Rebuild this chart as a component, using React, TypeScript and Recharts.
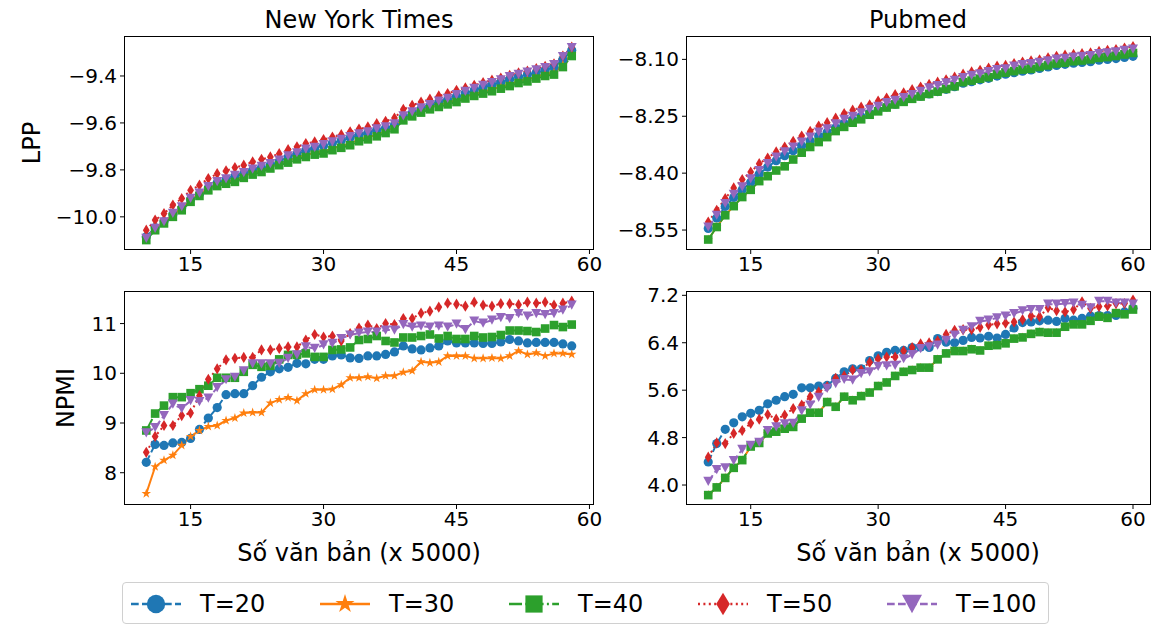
import React from 'react';
import { LineChart, Line, XAxis, YAxis } from 'recharts';

// x values (number of documents, x 5000)
const NYT_X = [10, 11, 12, 13, 14, 15, 16, 17, 18, 19, 20, 21, 22, 23, 24, 25, 26, 27, 28, 29, 30, 31, 32, 33, 34, 35, 36, 37, 38, 39, 40, 41, 42, 43, 44, 45, 46, 47, 48, 49, 50, 51, 52, 53, 54, 55, 56, 57, 58];
const PM_X = [10, 11, 12, 13, 14, 15, 16, 17, 18, 19, 20, 21, 22, 23, 24, 25, 26, 27, 28, 29, 30, 31, 32, 33, 34, 35, 36, 37, 38, 39, 40, 41, 42, 43, 44, 45, 46, 47, 48, 49, 50, 51, 52, 53, 54, 55, 56, 57, 58, 59, 60];

// New York Times - LPP
const NYT_LPP_T20 = [-10.085, -10.046, -10.020, -9.990, -9.962, -9.925, -9.903, -9.876, -9.855, -9.842, -9.828, -9.816, -9.801, -9.790, -9.778, -9.763, -9.745, -9.732, -9.717, -9.709, -9.697, -9.686, -9.675, -9.663, -9.651, -9.643, -9.630, -9.622, -9.609, -9.575, -9.558, -9.541, -9.528, -9.513, -9.501, -9.486, -9.473, -9.461, -9.449, -9.438, -9.427, -9.414, -9.404, -9.395, -9.385, -9.375, -9.363, -9.330, -9.290];
const NYT_LPP_T30 = [-10.091, -10.049, -10.020, -9.992, -9.964, -9.928, -9.903, -9.879, -9.861, -9.851, -9.843, -9.826, -9.812, -9.801, -9.786, -9.772, -9.761, -9.747, -9.737, -9.727, -9.722, -9.708, -9.698, -9.687, -9.670, -9.662, -9.649, -9.635, -9.619, -9.581, -9.564, -9.548, -9.534, -9.524, -9.513, -9.503, -9.488, -9.477, -9.467, -9.457, -9.446, -9.435, -9.422, -9.415, -9.403, -9.392, -9.386, -9.352, -9.305];
const NYT_LPP_T40 = [-10.099, -10.057, -10.028, -10.000, -9.972, -9.936, -9.911, -9.887, -9.869, -9.859, -9.851, -9.834, -9.820, -9.809, -9.794, -9.780, -9.769, -9.755, -9.745, -9.735, -9.730, -9.716, -9.706, -9.695, -9.678, -9.670, -9.657, -9.643, -9.627, -9.589, -9.572, -9.556, -9.542, -9.532, -9.521, -9.511, -9.496, -9.485, -9.475, -9.465, -9.454, -9.443, -9.430, -9.423, -9.411, -9.400, -9.394, -9.362, -9.315];
const NYT_LPP_T50 = [-10.057, -10.014, -9.986, -9.950, -9.922, -9.887, -9.865, -9.837, -9.816, -9.804, -9.790, -9.780, -9.766, -9.755, -9.745, -9.731, -9.714, -9.702, -9.688, -9.681, -9.671, -9.660, -9.650, -9.638, -9.626, -9.617, -9.603, -9.593, -9.579, -9.542, -9.525, -9.511, -9.499, -9.485, -9.475, -9.461, -9.451, -9.440, -9.428, -9.418, -9.409, -9.397, -9.387, -9.379, -9.369, -9.359, -9.348, -9.315, -9.277];
const NYT_LPP_T100 = [-10.092, -10.049, -10.021, -9.985, -9.957, -9.921, -9.899, -9.871, -9.850, -9.838, -9.823, -9.812, -9.797, -9.785, -9.773, -9.758, -9.740, -9.727, -9.712, -9.704, -9.692, -9.681, -9.670, -9.658, -9.646, -9.638, -9.625, -9.617, -9.604, -9.570, -9.553, -9.536, -9.522, -9.507, -9.495, -9.479, -9.466, -9.453, -9.440, -9.428, -9.416, -9.403, -9.393, -9.384, -9.374, -9.364, -9.352, -9.318, -9.279];

// Pubmed - LPP
const PM_LPP_T20 = [-8.546, -8.518, -8.488, -8.464, -8.444, -8.424, -8.402, -8.384, -8.367, -8.354, -8.341, -8.328, -8.315, -8.302, -8.292, -8.280, -8.269, -8.260, -8.251, -8.242, -8.234, -8.225, -8.218, -8.211, -8.203, -8.197, -8.191, -8.185, -8.179, -8.172, -8.163, -8.159, -8.154, -8.150, -8.144, -8.139, -8.135, -8.131, -8.128, -8.124, -8.120, -8.116, -8.113, -8.110, -8.108, -8.106, -8.102, -8.100, -8.098, -8.095, -8.092];
const PM_LPP_T30 = [-8.575, -8.542, -8.511, -8.487, -8.463, -8.444, -8.421, -8.408, -8.393, -8.382, -8.364, -8.346, -8.331, -8.318, -8.305, -8.289, -8.278, -8.267, -8.258, -8.246, -8.237, -8.227, -8.219, -8.212, -8.204, -8.198, -8.191, -8.185, -8.178, -8.171, -8.160, -8.156, -8.151, -8.147, -8.140, -8.135, -8.131, -8.127, -8.125, -8.120, -8.116, -8.111, -8.109, -8.105, -8.103, -8.100, -8.096, -8.094, -8.091, -8.087, -8.083];
const PM_LPP_T40 = [-8.575, -8.542, -8.511, -8.487, -8.463, -8.444, -8.421, -8.408, -8.393, -8.382, -8.364, -8.346, -8.331, -8.318, -8.305, -8.289, -8.278, -8.267, -8.258, -8.246, -8.237, -8.227, -8.219, -8.212, -8.204, -8.198, -8.191, -8.185, -8.178, -8.171, -8.160, -8.156, -8.151, -8.147, -8.140, -8.135, -8.131, -8.127, -8.125, -8.120, -8.116, -8.111, -8.109, -8.105, -8.103, -8.100, -8.096, -8.094, -8.091, -8.087, -8.083];
const PM_LPP_T50 = [-8.529, -8.498, -8.467, -8.439, -8.417, -8.397, -8.375, -8.360, -8.344, -8.331, -8.316, -8.302, -8.290, -8.276, -8.267, -8.255, -8.243, -8.234, -8.226, -8.220, -8.210, -8.202, -8.193, -8.188, -8.180, -8.173, -8.166, -8.160, -8.154, -8.147, -8.139, -8.133, -8.129, -8.123, -8.118, -8.116, -8.111, -8.107, -8.104, -8.101, -8.096, -8.092, -8.089, -8.087, -8.085, -8.083, -8.079, -8.076, -8.074, -8.070, -8.066];
const PM_LPP_T100 = [-8.542, -8.511, -8.480, -8.456, -8.436, -8.415, -8.393, -8.375, -8.358, -8.344, -8.331, -8.318, -8.305, -8.292, -8.283, -8.270, -8.258, -8.250, -8.241, -8.232, -8.224, -8.214, -8.208, -8.201, -8.193, -8.184, -8.175, -8.169, -8.162, -8.155, -8.148, -8.142, -8.138, -8.132, -8.127, -8.125, -8.118, -8.114, -8.111, -8.108, -8.104, -8.099, -8.097, -8.094, -8.092, -8.090, -8.085, -8.083, -8.080, -8.076, -8.073];

// New York Times - NPMI
const NYT_NPMI_T20 = [8.21, 8.57, 8.55, 8.60, 8.61, 8.69, 8.87, 9.10, 9.31, 9.57, 9.59, 9.59, 9.75, 9.92, 10.03, 10.09, 10.12, 10.20, 10.19, 10.28, 10.28, 10.35, 10.37, 10.31, 10.30, 10.35, 10.35, 10.38, 10.43, 10.55, 10.49, 10.47, 10.51, 10.55, 10.65, 10.61, 10.61, 10.61, 10.60, 10.60, 10.63, 10.68, 10.65, 10.61, 10.62, 10.62, 10.62, 10.59, 10.55];
const NYT_NPMI_T30 = [7.58, 8.12, 8.25, 8.35, 8.55, 8.73, 8.85, 8.93, 8.95, 9.05, 9.10, 9.20, 9.21, 9.21, 9.40, 9.47, 9.51, 9.45, 9.59, 9.67, 9.67, 9.68, 9.77, 9.91, 9.91, 9.93, 9.90, 9.95, 9.95, 10.02, 10.05, 10.23, 10.21, 10.23, 10.35, 10.35, 10.35, 10.30, 10.30, 10.31, 10.30, 10.35, 10.45, 10.38, 10.41, 10.35, 10.40, 10.40, 10.38];
const NYT_NPMI_T40 = [8.85, 9.19, 9.35, 9.52, 9.52, 9.60, 9.68, 9.75, 9.91, 9.91, 9.91, 10.03, 10.17, 10.13, 10.15, 10.28, 10.37, 10.37, 10.40, 10.33, 10.33, 10.47, 10.48, 10.52, 10.67, 10.69, 10.75, 10.65, 10.62, 10.72, 10.72, 10.75, 10.78, 10.70, 10.75, 10.69, 10.69, 10.75, 10.72, 10.73, 10.77, 10.86, 10.86, 10.85, 10.83, 10.90, 10.97, 10.93, 10.98];
const NYT_NPMI_T50 = [8.41, 8.73, 8.95, 8.95, 9.15, 9.20, 9.55, 9.88, 10.09, 10.27, 10.30, 10.32, 10.32, 10.47, 10.47, 10.50, 10.53, 10.53, 10.67, 10.78, 10.73, 10.75, 10.65, 10.80, 10.91, 10.97, 10.90, 11.00, 10.98, 11.10, 11.10, 11.21, 11.25, 11.33, 11.41, 11.39, 11.35, 11.43, 11.37, 11.35, 11.40, 11.40, 11.38, 11.43, 11.41, 11.43, 11.37, 11.41, 11.45];
const NYT_NPMI_T100 = [8.80, 8.91, 9.15, 9.38, 9.29, 9.45, 9.43, 9.50, 9.71, 9.87, 9.92, 10.05, 10.19, 10.19, 10.19, 10.20, 10.30, 10.37, 10.53, 10.50, 10.57, 10.60, 10.70, 10.77, 10.81, 10.83, 10.83, 10.87, 10.87, 10.98, 10.93, 10.95, 10.93, 10.95, 10.93, 10.99, 10.88, 11.05, 11.01, 11.07, 11.12, 11.10, 11.20, 11.15, 11.20, 11.18, 11.20, 11.27, 11.37];

// Pubmed - NPMI
const PM_NPMI_T20 = [4.39, 4.70, 4.94, 5.05, 5.15, 5.21, 5.26, 5.37, 5.43, 5.49, 5.53, 5.64, 5.64, 5.67, 5.68, 5.80, 5.91, 5.96, 5.96, 6.10, 6.18, 6.24, 6.27, 6.27, 6.32, 6.33, 6.32, 6.47, 6.41, 6.40, 6.44, 6.49, 6.48, 6.51, 6.48, 6.54, 6.65, 6.74, 6.75, 6.77, 6.78, 6.76, 6.81, 6.78, 6.81, 6.85, 6.86, 6.86, 6.86, 6.92, 6.98];
const PM_NPMI_T30 = [3.83, 3.96, 4.12, 4.29, 4.42, 4.65, 4.71, 4.87, 4.90, 4.95, 4.98, 5.12, 5.22, 5.22, 5.40, 5.32, 5.49, 5.43, 5.50, 5.56, 5.67, 5.73, 5.84, 5.91, 5.94, 5.98, 5.98, 6.12, 6.22, 6.26, 6.26, 6.29, 6.27, 6.35, 6.36, 6.39, 6.47, 6.49, 6.55, 6.58, 6.57, 6.57, 6.67, 6.71, 6.71, 6.77, 6.84, 6.82, 6.90, 6.88, 6.96];
const PM_NPMI_T40 = [3.83, 3.96, 4.12, 4.29, 4.42, 4.65, 4.71, 4.87, 4.90, 4.95, 4.98, 5.12, 5.22, 5.22, 5.40, 5.32, 5.49, 5.43, 5.50, 5.56, 5.67, 5.73, 5.84, 5.91, 5.94, 5.98, 5.98, 6.12, 6.22, 6.26, 6.26, 6.29, 6.27, 6.35, 6.36, 6.39, 6.47, 6.49, 6.55, 6.58, 6.57, 6.57, 6.67, 6.71, 6.71, 6.77, 6.84, 6.82, 6.90, 6.88, 6.96];
const PM_NPMI_T50 = [4.47, 4.71, 4.70, 4.87, 4.92, 5.04, 5.11, 5.19, 5.11, 5.18, 5.29, 5.35, 5.49, 5.57, 5.66, 5.80, 5.84, 5.94, 5.94, 6.07, 6.13, 6.16, 6.16, 6.26, 6.32, 6.38, 6.40, 6.43, 6.54, 6.61, 6.62, 6.62, 6.66, 6.70, 6.72, 6.73, 6.75, 6.79, 6.85, 6.84, 6.99, 6.94, 6.92, 6.96, 7.09, 6.98, 7.01, 7.02, 7.06, 7.06, 7.12];
const PM_NPMI_T100 = [4.06, 4.26, 4.29, 4.41, 4.60, 4.67, 4.72, 4.92, 4.98, 5.03, 5.04, 5.25, 5.35, 5.48, 5.63, 5.71, 5.78, 5.77, 5.88, 5.91, 6.00, 6.01, 6.02, 6.13, 6.20, 6.30, 6.33, 6.36, 6.44, 6.53, 6.61, 6.67, 6.76, 6.78, 6.82, 6.85, 6.89, 6.94, 6.96, 6.96, 7.05, 7.05, 7.06, 7.07, 7.03, 6.99, 7.10, 7.10, 7.07, 7.07, 7.05];

// tick values
const X_TICKS = [15, 30, 45, 60];
const NYT_LPP_TICKS = [-10.0, -9.8, -9.6, -9.4];
const PM_LPP_TICKS = [-8.55, -8.4, -8.25, -8.1];
const NYT_NPMI_TICKS = [8, 9, 10, 11];
const PM_NPMI_TICKS = [4.0, 4.8, 5.6, 6.4, 7.2];

const LABELS = ['T=20', 'T=30', 'T=40', 'T=50', 'T=100'];
const KEYS = ['t20', 't30', 't40', 't50', 't100'];

// matplotlib-ish style for each series
const STYLES = [
  { color: '#1f77b4', shape: 'circle', dash: '7.7 3.3' },
  { color: '#ff7f0e', shape: 'star', dash: undefined },
  { color: '#2ca02c', shape: 'square', dash: '13 3.3 2 3.3' },
  { color: '#d62728', shape: 'diamond', dash: '2 3.4' },
  { color: '#9467bd', shape: 'triangle', dash: '7.7 3.3' },
];

const FONT = 'DejaVu Sans';
const TICK_STYLE = { fill: '#000', fontSize: 20, fontFamily: FONT };

function starPoints(cx: number, cy: number, R: number) {
  const r = R * 0.382;
  const pts: string[] = [];
  for (let k = 0; k < 10; k++) {
    const a = -Math.PI / 2 + (k * Math.PI) / 5;
    const rr = k % 2 === 0 ? R : r;
    pts.push(`${cx + rr * Math.cos(a)},${cy + rr * Math.sin(a)}`);
  }
  return pts.join(' ');
}

function Marker({ shape, cx, cy, color, s = 1 }: any) {
  if (cx == null || cy == null) return null;
  switch (shape) {
    case 'circle':
      return <circle cx={cx} cy={cy} r={4.6 * s} fill={color} />;
    case 'star':
      return <polygon points={starPoints(cx, cy, 5 * s)} fill={color} />;
    case 'square':
      return <rect x={cx - 4.3 * s} y={cy - 4.3 * s} width={8.6 * s} height={8.6 * s} fill={color} />;
    case 'diamond':
      return <polygon points={`${cx},${cy - 5.6 * s} ${cx + 3.4 * s},${cy} ${cx},${cy + 5.6 * s} ${cx - 3.4 * s},${cy}`} fill={color} />;
    default:
      return <polygon points={`${cx - 5 * s},${cy - 4.6 * s} ${cx + 5 * s},${cy - 4.6 * s} ${cx},${cy + 4.6 * s}`} fill={color} />;
  }
}

const minus = (s: string) => s.replace('-', '\u2212');

function Panel({ xs, series, left, top, w, h, xDomain, yDomain, yTicks, digits }: any) {
  const rows = xs.map((x: number, i: number) => {
    const r: any = { x };
    KEYS.forEach((k, j) => (r[k] = series[j][i]));
    return r;
  });
  const YW = 80, XH = 40, MT = 12, MR = 30;
  return (
    <>
      <div style={{ position: 'absolute', left: left - YW, top: top - MT }}>
        <LineChart width={YW + w + MR} height={MT + h + XH} data={rows} margin={{ top: MT, right: MR, bottom: 0, left: 0 }}>
          <XAxis dataKey="x" type="number" domain={xDomain} allowDataOverflow ticks={X_TICKS} interval={0}
            height={XH} tick={TICK_STYLE} tickSize={5} tickMargin={3} stroke="#000" axisLine={false} />
          <YAxis type="number" domain={yDomain} allowDataOverflow ticks={yTicks} interval={0}
            width={YW} tick={TICK_STYLE} tickSize={5} tickMargin={3} stroke="#000" axisLine={false}
            tickFormatter={(v: number) => minus(v.toFixed(digits))} />
          {KEYS.map((k, j) => (
            <Line key={k} dataKey={k} type="linear" isAnimationActive={false}
              stroke={STYLES[j].color} strokeWidth={2} strokeDasharray={STYLES[j].dash}
              activeDot={false}
              dot={(p: any) => <Marker key={`${k}-${p.index}`} shape={STYLES[j].shape} cx={p.cx} cy={p.cy} color={STYLES[j].color} />} />
          ))}
        </LineChart>
      </div>
      {/* axes frame (all four spines) */}
      <svg width={w + 2} height={h + 2} style={{ position: 'absolute', left: left - 1, top: top - 1, pointerEvents: 'none' }}>
        <rect x={0.5} y={0.5} width={w + 1} height={h + 1} fill="none" stroke="#000" strokeWidth={1} />
      </svg>
    </>
  );
}

function Text({ x, y, size = 24, rotate = false, children }: any) {
  return (
    <div style={{
      position: 'absolute', left: x, top: y, transform: `translate(-50%, -50%)${rotate ? ' rotate(-90deg)' : ''}`,
      fontFamily: FONT, fontSize: size, lineHeight: 1, whiteSpace: 'nowrap', color: '#000',
    }}>{children}</div>
  );
}

function Legend() {
  const pitch = 189;
  return (
    <div style={{
      position: 'absolute', left: 122, top: 582, width: 927, height: 42,
      border: '1px solid #d0d0d0', borderRadius: 4, boxSizing: 'border-box', background: '#fff',
    }}>
      <svg width={927} height={42} style={{ position: 'absolute', left: -1, top: -1 }}>
        {LABELS.map((lab, j) => {
          const x0 = 9 + j * pitch;
          return (
            <g key={lab}>
              <line x1={x0} x2={x0 + 50} y1={22} y2={22} stroke={STYLES[j].color} strokeWidth={2.5}
                strokeDasharray={STYLES[j].dash} />
              <Marker shape={STYLES[j].shape} cx={x0 + 25} cy={22} color={STYLES[j].color} s={2} />
              <text x={x0 + 69} y={22} dominantBaseline="central" fontFamily={FONT} fontSize={24} fill="#000">{lab}</text>
            </g>
          );
        })}
      </svg>
    </div>
  );
}

export default function App() {
  return (
    <div style={{ position: 'absolute', left: 0, top: 0, width: 1161, height: 626, background: '#fff', overflow: 'hidden' }}>
      <Panel xs={NYT_X} series={[NYT_LPP_T20, NYT_LPP_T30, NYT_LPP_T40, NYT_LPP_T50, NYT_LPP_T100]}
        left={125} top={37} w={468} h={212} xDomain={[7.6, 60.4]} yDomain={[-10.137, -9.234]}
        yTicks={NYT_LPP_TICKS} digits={1} />
      <Panel xs={PM_X} series={[PM_LPP_T20, PM_LPP_T30, PM_LPP_T40, PM_LPP_T50, PM_LPP_T100]}
        left={687} top={37} w={463} h={212} xDomain={[7.5, 62.0]} yDomain={[-8.6, -8.041]}
        yTicks={PM_LPP_TICKS} digits={2} />
      <Panel xs={NYT_X} series={[NYT_NPMI_T20, NYT_NPMI_T30, NYT_NPMI_T40, NYT_NPMI_T50, NYT_NPMI_T100]}
        left={125} top={292} w={468} h={212} xDomain={[7.6, 60.4]} yDomain={[7.371, 11.635]}
        yTicks={NYT_NPMI_TICKS} digits={0} />
      <Panel xs={PM_X} series={[PM_NPMI_T20, PM_NPMI_T30, PM_NPMI_T40, PM_NPMI_T50, PM_NPMI_T100]}
        left={687} top={292} w={463} h={212} xDomain={[7.5, 62.0]} yDomain={[3.68, 7.256]}
        yTicks={PM_NPMI_TICKS} digits={1} />

      <Text x={359} y={20}>New York Times</Text>
      <Text x={918} y={20}>Pubmed</Text>
      <Text x={32} y={143} rotate>LPP</Text>
      <Text x={66} y={398} rotate>NPMI</Text>
      <Text x={359} y={553}>Số văn bản (x 5000)</Text>
      <Text x={918} y={553}>Số văn bản (x 5000)</Text>
      <Legend />
    </div>
  );
}
